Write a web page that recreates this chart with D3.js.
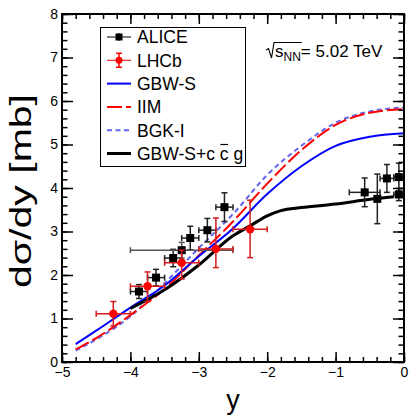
<!DOCTYPE html>
<html><head><meta charset="utf-8">
<script src="https://cdn.jsdelivr.net/npm/d3@7"></script>
<style>body{margin:0;background:#fff;} text{font-family:"Liberation Sans",Arial,Helvetica,sans-serif;}</style>
</head><body><svg id="c" width="409" height="416"></svg>
<script>
// ---------- data ----------
const xTickValues = [-5, -4, -3, -2, -1, 0];
const yTickValues = [0, 1, 2, 3, 4, 5, 6, 7, 8];

// ALICE
const aliceRap   = [-3.875, -3.625, -3.375, -3.125, -2.875, -2.625, -3.25, -0.575, -0.39, -0.25, -0.075, -0.075];
const aliceRapErr= [0.125, 0.125, 0.125, 0.125, 0.125, 0.125, 0.75, 0.225, 0.0, 0.1, 0.075, 0.075];
const aliceVal   = [1.62, 1.94, 2.39, 2.85, 3.03, 3.56, 2.57, 3.90, 3.75, 4.22, 4.25, 3.85];
const aliceErr   = [0.16, 0.19, 0.20, 0.27, 0.27, 0.33, 0.18, 0.33, 0.57, 0.32, 0.32, 0.14];

// LHCb
const lhcbRap    = [-4.25, -3.75, -3.25, -2.75, -2.25];
const lhcbRapErr = [0.25, 0.25, 0.25, 0.25, 0.25];
const lhcbVal    = [1.11, 1.74, 2.28, 2.60, 3.05];
const lhcbErrHi  = [0.28, 0.33, 0.29, 0.71, 0.67];
const lhcbErrLo  = [0.28, 0.35, 0.37, 0.43, 0.65];

// model curves
const curveRap = [-4.8, -4.5, -4.0, -3.5, -3.0, -2.5, -2.0, -1.5, -1.0, -0.5, 0.0];
const gbwS     = [0.41, 0.72, 1.25, 1.76, 2.43, 3.07, 3.86, 4.50, 4.97, 5.18, 5.26];
const iim      = [0.29, 0.55, 1.08, 1.68, 2.45, 3.23, 4.10, 4.87, 5.45, 5.73, 5.81];
const bgkI     = [0.26, 0.52, 1.05, 1.81, 2.62, 3.40, 4.30, 4.97, 5.50, 5.76, 5.85];
const ccgRap   = [-4.0, -3.5, -3.0, -2.5, -2.25, -2.0, -1.8, -1.5, -1.0, -0.5, -0.15];
const ccgVal   = [1.23, 1.66, 2.23, 2.90, 3.13, 3.36, 3.48, 3.55, 3.63, 3.74, 3.80];

const legendLabels = ["ALICE", "LHCb", "GBW-S", "IIM", "BGK-I", "GBW-S+c c g"];

// ---------- layout ----------
const W = 409, H = 416;
const m = {l: 62, r: 404, t: 14, b: 362};
const x = d3.scaleLinear().domain([-5, 0]).range([m.l, m.r]);
const y = d3.scaleLinear().domain([0, 8]).range([m.b, m.t]);
const svg = d3.select('#c');
svg.append('rect').attr('width', W).attr('height', H).attr('fill', '#fff');
svg.append('clipPath').attr('id', 'clip').append('rect')
  .attr('x', m.l).attr('y', m.t).attr('width', m.r - m.l).attr('height', m.b - m.t);

const styles = {
  gbw: {stroke: '#0000ff', width: 2, dash: null},
  iim: {stroke: '#ff0000', width: 2, dash: '15,4'},
  bgk: {stroke: '#6464ec', width: 2, dash: '5,3.5'},
  ccg: {stroke: '#000000', width: 3, dash: null}
};

// ---------- curves ----------
const line = d3.line().x(d => x(d[0])).y(d => y(d[1])).curve(d3.curveMonotoneX);
const gCurves = svg.append('g').attr('clip-path', 'url(#clip)');
function drawCurve(xs, ys, st) {
  gCurves.append('path').datum(xs.map((v, i) => [v, ys[i]]))
    .attr('d', line).attr('fill', 'none')
    .attr('stroke', st.stroke).attr('stroke-width', st.width)
    .attr('stroke-dasharray', st.dash);
}
drawCurve(curveRap, bgkI, styles.bgk);
drawCurve(curveRap, iim, styles.iim);
drawCurve(curveRap, gbwS, styles.gbw);
drawCurve(ccgRap, ccgVal, styles.ccg);

// ---------- data points ----------
const cap = 3;
function errBars(g, cx, cy, x1, x2, y1, y2, col) {
  if (x2 - x1 > 0.5) {
    g.append('line').attr('x1', x1).attr('x2', x2).attr('y1', cy).attr('y2', cy).attr('stroke', col).attr('stroke-width', 1.5);
    g.append('line').attr('x1', x1).attr('x2', x1).attr('y1', cy - cap).attr('y2', cy + cap).attr('stroke', col).attr('stroke-width', 1.5);
    g.append('line').attr('x1', x2).attr('x2', x2).attr('y1', cy - cap).attr('y2', cy + cap).attr('stroke', col).attr('stroke-width', 1.5);
  }
  g.append('line').attr('x1', cx).attr('x2', cx).attr('y1', y1).attr('y2', y2).attr('stroke', col).attr('stroke-width', 1.5);
  g.append('line').attr('x1', cx - cap).attr('x2', cx + cap).attr('y1', y1).attr('y2', y1).attr('stroke', col).attr('stroke-width', 1.5);
  g.append('line').attr('x1', cx - cap).attr('x2', cx + cap).attr('y1', y2).attr('y2', y2).attr('stroke', col).attr('stroke-width', 1.5);
}
const gPts = svg.append('g').attr('clip-path', 'url(#clip)');
aliceRap.forEach((r, i) => {
  const cx = x(r), cy = y(aliceVal[i]);
  errBars(gPts, cx, cy, x(r - aliceRapErr[i]), x(r + aliceRapErr[i]),
          y(aliceVal[i] + aliceErr[i]), y(aliceVal[i] - aliceErr[i]), i === 6 ? '#555' : '#222');
});
aliceRap.forEach((r, i) => {
  gPts.append('rect').attr('x', x(r) - 4).attr('y', y(aliceVal[i]) - 4)
    .attr('width', 8).attr('height', 8).attr('fill', '#000');
});
lhcbRap.forEach((r, i) => {
  errBars(gPts, x(r), y(lhcbVal[i]), x(r - lhcbRapErr[i]), x(r + lhcbRapErr[i]),
          y(lhcbVal[i] + lhcbErrHi[i]), y(lhcbVal[i] - lhcbErrLo[i]), '#d41c1c');
  gPts.append('circle').attr('cx', x(r)).attr('cy', y(lhcbVal[i])).attr('r', 4.2).attr('fill', '#ff0000');
});

// ---------- axes ----------
function styleAxis(g) {
  g.select('.domain').remove();
  g.selectAll('line').attr('stroke', '#000').attr('stroke-width', 1.5);
  g.selectAll('text').attr('font-size', 14).attr('fill', '#000')
    .attr('font-family', '"Liberation Sans",Arial,sans-serif');
}
const xMinor = d3.range(-5, 0.0001, 0.2).map(v => +v.toFixed(2));
const yMinor = d3.range(0, 8.0001, 0.2).map(v => +v.toFixed(2));
svg.append('g').attr('transform', `translate(0,${m.b})`)
  .call(d3.axisBottom(x).tickValues(xMinor).tickSize(-5).tickFormat('')).call(styleAxis);
svg.append('g').attr('transform', `translate(0,${m.b})`)
  .call(d3.axisBottom(x).tickValues(xTickValues).tickSize(-10).tickPadding(5).tickFormat(d3.format('d'))).call(styleAxis);
svg.append('g').attr('transform', `translate(0,${m.t})`)
  .call(d3.axisTop(x).tickValues(xMinor).tickSize(-5).tickFormat('')).call(styleAxis);
svg.append('g').attr('transform', `translate(0,${m.t})`)
  .call(d3.axisTop(x).tickValues(xTickValues).tickSize(-10).tickFormat('')).call(styleAxis);
svg.append('g').attr('transform', `translate(${m.l},0)`)
  .call(d3.axisLeft(y).tickValues(yMinor).tickSize(-5.5).tickFormat('')).call(styleAxis);
svg.append('g').attr('transform', `translate(${m.l},0)`)
  .call(d3.axisLeft(y).tickValues(yTickValues).tickSize(-11).tickPadding(4).tickFormat(d3.format('d'))).call(styleAxis);
svg.append('g').attr('transform', `translate(${m.r},0)`)
  .call(d3.axisRight(y).tickValues(yMinor).tickSize(-5.5).tickFormat('')).call(styleAxis);
svg.append('g').attr('transform', `translate(${m.r},0)`)
  .call(d3.axisRight(y).tickValues(yTickValues).tickSize(-11).tickFormat('')).call(styleAxis);

svg.append('rect').attr('x', m.l).attr('y', m.t).attr('width', m.r - m.l).attr('height', m.b - m.t)
  .attr('fill', 'none').attr('stroke', '#000').attr('stroke-width', 2);

// axis titles
svg.append('text').attr('x', x(-2.5)).attr('y', 409).attr('text-anchor', 'middle')
  .attr('font-size', 27).text('y');
svg.append('text').attr('transform', `translate(31,191) rotate(-90)`).attr('text-anchor', 'middle')
  .attr('font-size', 29).attr('textLength', 194).attr('lengthAdjust', 'spacingAndGlyphs')
  .text('dσ/dy [mb]');

// ---------- legend ----------
const lg = svg.append('g');
lg.append('rect').attr('x', 100.5).attr('y', 27.5).attr('width', 145).attr('height', 139)
  .attr('fill', '#fff').attr('stroke', '#000').attr('stroke-width', 1);
const lx1 = 107, lx2 = 131, lxm = 119, ltx = 137;
legendLabels.forEach((lab, i) => {
  const ly = 37 + i * 23.3;
  const t = lg.append('text').attr('x', ltx).attr('y', ly).attr('dy', '0.36em')
    .attr('font-size', 17.5).text(lab);
  if (i === 0) {
    lg.append('line').attr('x1', lx1).attr('x2', lx2).attr('y1', ly).attr('y2', ly).attr('stroke', '#000').attr('stroke-width', 1);
    lg.append('line').attr('x1', lxm).attr('x2', lxm).attr('y1', ly - 4).attr('y2', ly + 4).attr('stroke', '#000').attr('stroke-width', 1);
    lg.append('rect').attr('x', lxm - 3.5).attr('y', ly - 3.5).attr('width', 7).attr('height', 7).attr('fill', '#000');
  } else if (i === 1) {
    lg.append('line').attr('x1', lx1).attr('x2', lx2).attr('y1', ly).attr('y2', ly).attr('stroke', '#ff0000').attr('stroke-width', 1);
    lg.append('line').attr('x1', lxm).attr('x2', lxm).attr('y1', ly - 7).attr('y2', ly + 7).attr('stroke', '#ff0000').attr('stroke-width', 1.5);
    lg.append('line').attr('x1', lxm - 3).attr('x2', lxm + 3).attr('y1', ly - 7).attr('y2', ly - 7).attr('stroke', '#ff0000').attr('stroke-width', 1.5);
    lg.append('line').attr('x1', lxm - 3).attr('x2', lxm + 3).attr('y1', ly + 7).attr('y2', ly + 7).attr('stroke', '#ff0000').attr('stroke-width', 1.5);
    lg.append('circle').attr('cx', lxm).attr('cy', ly).attr('r', 3.5).attr('fill', '#ff0000');
  } else {
    const st = [styles.gbw, styles.iim, styles.bgk, styles.ccg][i - 2];
    lg.append('line').attr('x1', lx1).attr('x2', lx2).attr('y1', ly).attr('y2', ly)
      .attr('stroke', st.stroke).attr('stroke-width', st.width).attr('stroke-dasharray', st.dash);
  }
  if (i === 5) {
    const node = t.node();
    const p = node.getStartPositionOfChar(8);
    const w = node.getSubStringLength(8, 1);
    lg.append('line').attr('x1', p.x + 0.5).attr('x2', p.x + w - 0.5).attr('y1', ly - 9).attr('y2', ly - 9)
      .attr('stroke', '#000').attr('stroke-width', 1.2);
  }
});

// ---------- sqrt(s_NN) annotation ----------
const ann = svg.append('text').attr('x', 275).attr('y', 56.5).attr('font-size', 17);
const tS = ann.append('tspan').text('s');
const tNN = ann.append('tspan').attr('font-size', 12).attr('dy', 4).text('NN');
ann.append('tspan').attr('dy', -4).text('= 5.02 TeV');
const sw = tS.node().getComputedTextLength() + tNN.node().getComputedTextLength();
svg.append('path')
  .attr('d', `M266,50 L268.5,48.5 L271.5,58 L274,42.5 L${275 + sw + 1},42.5`)
  .attr('fill', 'none').attr('stroke', '#000').attr('stroke-width', 1.1);
</script></body></html>
